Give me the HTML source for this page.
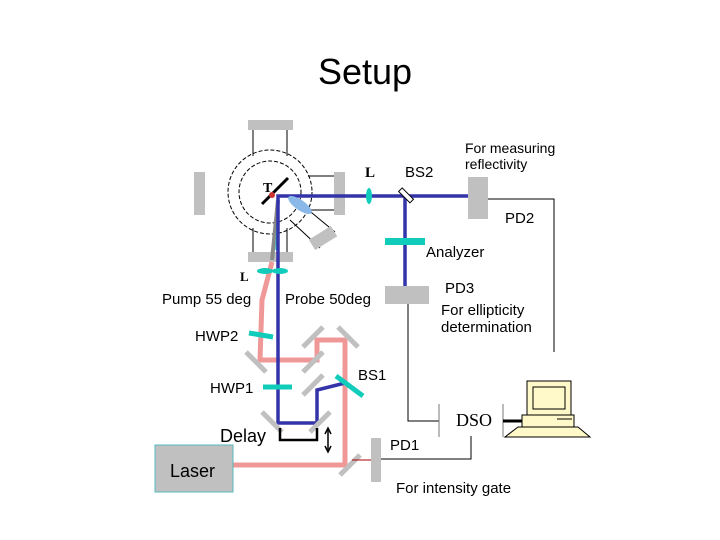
<!DOCTYPE html>
<html><head><style>body{margin:0;background:#fff}svg{display:block}</style></head><body>
<svg width="720" height="540" viewBox="0 0 720 540" xmlns="http://www.w3.org/2000/svg" font-family="Liberation Sans, sans-serif">
<rect width="720" height="540" fill="#fff"/>
<text x="365" y="84" font-size="36" text-anchor="middle">Setup</text>
<!-- chamber -->
<g stroke="#000" stroke-width="1" fill="none">
<circle cx="270" cy="192" r="42" stroke-dasharray="4,2"/>
<circle cx="270" cy="192" r="31" stroke-dasharray="4,2"/>
<line x1="253" y1="130" x2="253" y2="156"/><line x1="287" y1="130" x2="287" y2="156"/>
<line x1="253" y1="228" x2="253" y2="252"/><line x1="287" y1="228" x2="287" y2="252"/>
<line x1="308" y1="176" x2="334" y2="176"/><line x1="308" y1="210" x2="334" y2="210"/>
<line x1="290" y1="220" x2="320" y2="248"/><line x1="306" y1="208" x2="335" y2="232"/>
</g>
<g fill="#c0c0c0">
<rect x="248" y="120" width="45" height="10"/>
<rect x="248" y="252" width="45" height="10"/>
<rect x="194" y="172" width="11" height="43"/>
<rect x="334" y="172" width="11" height="43"/>
<rect x="310" y="232" width="26" height="12" transform="rotate(-32 323 238)"/>
</g>
<!-- beams -->
<g fill="none" stroke-linejoin="miter">
<polyline points="233,465 345,465 345,340 317,340 317,360 260,360 262,300 272,262" stroke="#f09898" stroke-width="5"/>
<line x1="272" y1="260" x2="278" y2="200" stroke="#888" stroke-width="4"/>
<line x1="276" y1="250" x2="278" y2="200" stroke="#3cc" stroke-width="1.5"/>
<polyline points="345,383 317,390 317,423 278,423 278,196 470,196" stroke="#3333aa" stroke-width="3.5"/>
<line x1="405" y1="196" x2="405" y2="290" stroke="#3333aa" stroke-width="3.5"/>
</g>
<ellipse cx="300" cy="205" rx="14" ry="5" fill="#8ab8e8" transform="rotate(35 300 205)"/>
<line x1="262" y1="204" x2="288" y2="178" stroke="#000" stroke-width="3"/>
<circle cx="272" cy="195" r="3" fill="#c33"/>
<text x="263" y="192" font-family="Liberation Serif, serif" font-weight="bold" font-size="14">T</text>
<ellipse cx="369" cy="196" rx="3" ry="8" fill="#1cb"/>
<text x="365" y="177" font-family="Liberation Serif, serif" font-weight="bold" font-size="15">L</text>
<ellipse cx="265" cy="271" rx="8" ry="3" fill="#1cb"/><ellipse cx="280" cy="271" rx="8" ry="3" fill="#1cb"/>
<text x="240" y="281" font-family="Liberation Serif, serif" font-weight="bold" font-size="13">L</text>
<rect x="398" y="192" width="16" height="5" fill="#fff" stroke="#000" stroke-width="1" transform="rotate(45 405 195)"/>
<rect x="385" y="238" width="40" height="7" fill="#1cb"/>
<g fill="#c0c0c0">
<rect x="385" y="286" width="44" height="18"/>
<rect x="468" y="177" width="20" height="42"/>
<rect x="371" y="438" width="10" height="44"/>
<rect x="155" y="445" width="78" height="47" stroke="#5bb" stroke-width="1"/>
</g>
<!-- mirrors -->
<g stroke="#c0c0c0" stroke-width="5">
<line x1="246" y1="352" x2="266" y2="372"/>
<line x1="303" y1="347" x2="323" y2="327"/>
<line x1="338" y1="327" x2="358" y2="347"/>
<line x1="303" y1="372" x2="323" y2="352"/>
<line x1="303" y1="395" x2="323" y2="375"/>
<line x1="262" y1="412" x2="282" y2="432"/>
<line x1="310" y1="432" x2="330" y2="412"/>
<line x1="340" y1="475" x2="360" y2="455"/>
</g>
<g stroke="#1cb" stroke-width="5">
<line x1="249" y1="333" x2="273" y2="337"/>
<line x1="263" y1="387" x2="292" y2="387"/>
<line x1="336" y1="376" x2="363" y2="396"/>
</g>
<polyline points="280,428 280,440 317,440 317,428" fill="none" stroke="#000" stroke-width="2.5"/>
<g stroke="#000" stroke-width="1.5"><line x1="328" y1="430" x2="328" y2="450"/>
<polyline points="325,434 328,428 331,434" fill="none"/><polyline points="325,446 328,452 331,446" fill="none"/></g>
<line x1="352" y1="460" x2="371" y2="460" stroke="#a00" stroke-width="1"/>
<!-- wires -->
<g stroke="#000" stroke-width="1" fill="none">
<polyline points="488,199 554,199 554,352"/>
<polyline points="408,304 408,421 439,421"/>
<polyline points="381,459 471,459 471,436"/>
<line x1="439" y1="404" x2="439" y2="437" stroke="#777"/>
<line x1="503" y1="404" x2="503" y2="437" stroke="#777"/>
</g>
<line x1="503" y1="421" x2="523" y2="421" stroke="#000" stroke-width="3"/>
<!-- computer -->
<g stroke="#000" stroke-width="1" fill="#fff8c8">
<rect x="527" y="381" width="44" height="34"/>
<rect x="533" y="387" width="32" height="22" fill="none"/>
<rect x="522" y="415" width="52" height="12"/>
<polygon points="518,427 578,427 590,437 505,437"/>
</g>
<line x1="557" y1="419" x2="572" y2="419" stroke="#000"/>
<!-- labels -->
<g font-size="15" fill="#000">
<text x="162" y="304">Pump 55 deg</text>
<text x="285" y="304">Probe 50deg</text>
<text x="195" y="341">HWP2</text>
<text x="210" y="393">HWP1</text>
<text x="220" y="442" font-size="18">Delay</text>
<text x="170" y="477" font-size="18">Laser</text>
<text x="358" y="380">BS1</text>
<text x="390" y="450">PD1</text>
<text x="396" y="493">For intensity gate</text>
<text x="405" y="177">BS2</text>
<text x="465" y="153" font-size="14">For measuring</text>
<text x="465" y="169" font-size="14">reflectivity</text>
<text x="505" y="223">PD2</text>
<text x="426" y="257">Analyzer</text>
<text x="445" y="293">PD3</text>
<text x="441" y="315">For ellipticity</text>
<text x="441" y="332">determination</text>
<text x="456" y="426" font-family="Liberation Serif, serif" font-size="18">DSO</text>
</g>
</svg>
</body></html>
